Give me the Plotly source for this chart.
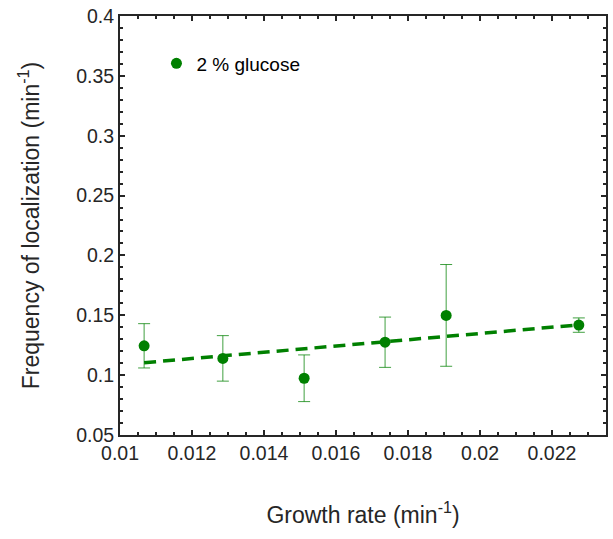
import plotly.graph_objects as go

# Data
growth_rate = [0.01067, 0.012857, 0.015115, 0.017363, 0.01906, 0.022745]
frequency = [0.1245, 0.114, 0.0974, 0.1275, 0.1499, 0.1418]
freq_err = [0.0185, 0.019, 0.0195, 0.021, 0.0425, 0.006]

fit_x = [0.01067, 0.02275]
fit_y = [0.1104, 0.1420]

x_tickvals = [0.01, 0.012, 0.014, 0.016, 0.018, 0.02, 0.022]
x_ticktext = ["0.01", "0.012", "0.014", "0.016", "0.018", "0.02", "0.022"]
y_tickvals = [0.05, 0.1, 0.15, 0.2, 0.25, 0.3, 0.35, 0.4]
y_ticktext = ["0.05", "0.1", "0.15", "0.2", "0.25", "0.3", "0.35", "0.4"]

green = "#008000"
axcol = "#262626"
font_family = "Liberation Sans, Arial, sans-serif"

fig = go.Figure()
fig.add_trace(go.Scatter(
    x=fit_x, y=fit_y, mode="lines",
    line=dict(color=green, width=3.5, dash="12px,7px"),
    showlegend=False, hoverinfo="skip",
))
fig.add_trace(go.Scatter(
    x=growth_rate, y=frequency, mode="markers",
    name="2 % glucose",
    marker=dict(color=green, size=11),
    error_y=dict(type="data", array=freq_err, visible=True,
                 color="rgba(0,128,0,0.75)", thickness=1, width=6),
))

axis_common = dict(
    showgrid=False, zeroline=False,
    showline=True, linecolor=axcol, linewidth=2,
    mirror="ticks", ticks="inside", ticklen=5, tickwidth=1.5, tickcolor=axcol,
    tickfont=dict(family=font_family, size=19.5, color=axcol),
)

fig.update_layout(
    width=613, height=539,
    margin=dict(l=120, r=5, t=12, b=104),
    plot_bgcolor="white", paper_bgcolor="white",
    font=dict(family=font_family, color=axcol),
    legend=dict(x=0.075, y=0.932, xanchor="left", yanchor="top",
                bgcolor="rgba(0,0,0,0)",
                font=dict(family=font_family, size=19, color="black")),
    xaxis=dict(
        range=[0.01, 0.0235],
        tickmode="array", tickvals=x_tickvals, ticktext=x_ticktext,
        minor=dict(tick0=0.01, dtick=0.0005, ticks="inside", ticklen=3,
                   tickwidth=1.5, tickcolor=axcol),
        title=dict(text="Growth rate (min<sup>-1</sup>)", standoff=43,
                   font=dict(family=font_family, size=23, color=axcol)),
        **axis_common,
    ),
    yaxis=dict(
        range=[0.05, 0.4],
        tickmode="array", tickvals=y_tickvals, ticktext=y_ticktext,
        minor=dict(tick0=0.05, dtick=0.01, ticks="inside", ticklen=3,
                   tickwidth=1.5, tickcolor=axcol),
        title=dict(text="Frequency of localization (min<sup>-1</sup>)", standoff=30,
                   font=dict(family=font_family, size=23, color=axcol)),
        **axis_common,
    ),
)

fig.write_html("out.html")
